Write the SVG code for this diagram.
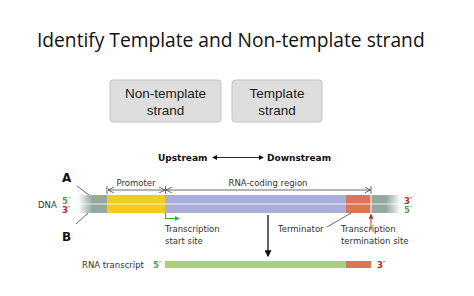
<svg xmlns="http://www.w3.org/2000/svg" width="474" height="296" viewBox="0 0 474 296">
<style>
.title{font-family:"Open Sans","Noto Sans",sans-serif;font-size:19.2px;fill:#111}
.btn{font-family:"Liberation Sans",Arial,sans-serif;font-size:13.5px;fill:#222;text-anchor:middle}
.lbl{font-family:"DejaVu Sans",Verdana,sans-serif;font-size:8.5px;fill:#333}
.bold{font-family:"DejaVu Sans",Verdana,sans-serif;font-size:9px;font-weight:bold;fill:#111}
.big{font-family:"DejaVu Sans",Verdana,sans-serif;font-size:12px;font-weight:bold;fill:#111}
.g{fill:#5a9e55;font-weight:bold}
.r{fill:#c1272d;font-weight:bold}
.box{fill:#dedede;stroke:#c4c4c4;stroke-width:1}
.ln{stroke:#444;stroke-width:0.8;fill:none}
</style>
<defs>
<linearGradient id="fadeL" x1="0" x2="1"><stop offset="0" stop-color="#93a89e" stop-opacity="0"/><stop offset="0.5" stop-color="#93a89e"/><stop offset="1" stop-color="#93a89e"/></linearGradient>
<linearGradient id="fadeR" x1="0" x2="1"><stop offset="0" stop-color="#93a89e"/><stop offset="0.5" stop-color="#93a89e"/><stop offset="1" stop-color="#93a89e" stop-opacity="0"/></linearGradient>
<marker id="chev" viewBox="0 0 6 6" refX="6" refY="3" markerWidth="6" markerHeight="6" orient="auto-start-reverse" markerUnits="userSpaceOnUse"><path d="M0,0 L6,3 L0,6" fill="none" stroke="#444" stroke-width="0.8"/></marker>
<marker id="tri" viewBox="0 0 6 6" refX="5" refY="3" markerWidth="5" markerHeight="5" orient="auto-start-reverse" markerUnits="userSpaceOnUse"><path d="M0,0 L6,3 L0,6 z" fill="#111"/></marker>
<marker id="triBig" viewBox="0 0 6 6" refX="5" refY="3" markerWidth="7" markerHeight="7" orient="auto" markerUnits="userSpaceOnUse"><path d="M0,0 L6,3 L0,6 z" fill="#111"/></marker>
<marker id="triG" viewBox="0 0 6 6" refX="5" refY="3" markerWidth="5" markerHeight="5" orient="auto" markerUnits="userSpaceOnUse"><path d="M0,0 L6,3 L0,6 z" fill="#4aa64a"/></marker>
<marker id="triR" viewBox="0 0 6 6" refX="5" refY="3" markerWidth="5" markerHeight="5" orient="auto" markerUnits="userSpaceOnUse"><path d="M0,0 L6,3 L0,6 z" fill="#c1272d"/></marker>
</defs>
<rect width="474" height="296" fill="#ffffff"/>
<text class="title" x="37" y="47">Identify Template and Non-template strand</text>

<g id="nontemplate-box">
<rect class="box" x="110" y="80" width="111" height="42" rx="3"/>
<text class="btn" x="165.5" y="98">Non-template</text>
<text class="btn" x="165.5" y="115">strand</text>
</g>
<g id="template-box">
<rect class="box" x="232" y="80" width="90" height="42" rx="3"/>
<text class="btn" x="277" y="98">Template</text>
<text class="btn" x="277" y="115">strand</text>
</g>

<g id="dna">
<rect x="78" y="195" width="29" height="18" fill="url(#fadeL)"/>
<rect x="107" y="195" width="58" height="18" fill="#f2cb1d"/>
<rect x="165" y="195" width="181" height="18" fill="#aaaedb"/>
<rect x="346" y="195" width="25" height="18" fill="#de7556"/>
<rect x="371" y="195" width="30" height="18" fill="url(#fadeR)"/>
<line x1="78" y1="204" x2="401" y2="204" stroke="#ffffff" stroke-width="1" stroke-opacity="0.8"/>
<line x1="371" y1="195" x2="371" y2="213" stroke="#ffffff" stroke-width="1"/>
<text class="lbl" x="38" y="207.5">DNA</text>
<text class="lbl g" x="62" y="203.5">5′</text>
<text class="lbl r" x="62" y="212.5">3′</text>
<text class="lbl r" x="404" y="203.5">3′</text>
<text class="lbl g" x="404" y="212.5">5′</text>
</g>

<g id="labels">
<text class="bold" x="158" y="161">Upstream</text>
<text class="bold" x="267" y="161">Downstream</text>
<text class="big" x="62" y="182">A</text>
<text class="big" x="62" y="241">B</text>
<text class="lbl" x="136" y="186" text-anchor="middle">Promoter</text>
<text class="lbl" x="268" y="186" text-anchor="middle">RNA-coding region</text>
<text class="lbl" x="165" y="232">Transcription</text>
<text class="lbl" x="165" y="244">start site</text>
<text class="lbl" x="278" y="232">Terminator</text>
<text class="lbl" x="341" y="232">Transcription</text>
<text class="lbl" x="341" y="244">termination site</text>
</g>

<g id="rna-transcript">
<rect x="165" y="261" width="181" height="7" fill="#a9d07c"/>
<rect x="346" y="261" width="25" height="7" fill="#de7556"/>
<text class="lbl" x="82" y="268">RNA transcript</text>
<text class="lbl g" x="153" y="268">5′</text>
<text class="lbl r" x="377" y="268">3′</text>
</g>

<g id="connectors">
<line x1="213" y1="157.5" x2="263" y2="157.5" stroke="#111" stroke-width="0.9" marker-start="url(#tri)" marker-end="url(#tri)"/>
<line class="ln" x1="107" y1="186" x2="107" y2="194"/>
<line class="ln" x1="165.5" y1="186" x2="165.5" y2="194"/>
<line class="ln" x1="371" y1="186" x2="371" y2="194"/>
<line class="ln" x1="108" y1="190" x2="165" y2="190" marker-start="url(#chev)" marker-end="url(#chev)"/>
<line class="ln" x1="166" y1="190" x2="370.5" y2="190" marker-start="url(#chev)" marker-end="url(#chev)"/>
<line class="ln" x1="77" y1="186" x2="89" y2="195"/>
<line class="ln" x1="76" y1="224" x2="88" y2="213"/>
<polyline points="165.5,213 165.5,218.5 179,218.5" fill="none" stroke="#4aa64a" stroke-width="1.2" marker-end="url(#triG)"/>
<line x1="371" y1="230" x2="371" y2="214.5" stroke="#c1272d" stroke-width="1" marker-end="url(#triR)"/>
<line class="ln" x1="327" y1="227" x2="351" y2="213"/>
<line x1="268" y1="215" x2="268" y2="256" stroke="#111" stroke-width="1.3" marker-end="url(#triBig)"/>
</g>
</svg>
